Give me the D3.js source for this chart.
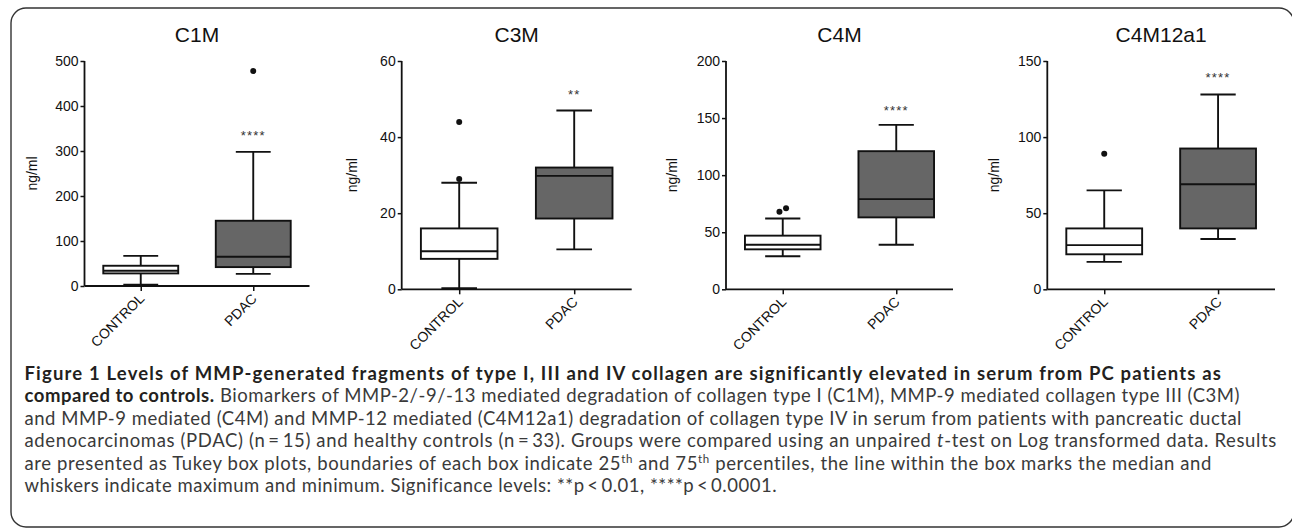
<!DOCTYPE html>
<html><head><meta charset="utf-8">
<script src="https://cdn.jsdelivr.net/npm/d3@7"></script>
<style>body{margin:0;background:#fff;} svg{display:block}</style>
</head><body>
<svg id="chart" width="1292" height="528"></svg>
<script>
// ---------- DATA ----------
const panelNames = ["C1M", "C3M", "C4M", "C4M12a1"];
const groups = ["CONTROL", "PDAC"];
const yMax = [500, 60, 200, 150];
const yTicks = [[0, 100, 200, 300, 400, 500], [0, 20, 40, 60], [0, 50, 100, 150, 200], [0, 50, 100, 150]];
// [min, q1, median, q3, max]
const controlStats = [[3, 28, 34, 45, 67], [0.3, 8, 10, 16, 28], [29, 35, 39, 47, 62], [18, 23, 29, 40, 65]];
const pdacStats = [[27, 42, 65, 145, 298], [10.5, 18.6, 29.8, 32, 47], [39, 63, 79, 121, 144], [33, 40, 69, 92.5, 128]];
const controlOutliers = [[], [29, 44], [68, 71], [89]];
const pdacOutliers = [[478], [], [], []];
const significance = ["****", "**", "****", "****"];
const significanceAt = [340, 52, 159, 141];
const yLabel = "ng/ml";

// ---------- LAYOUT ----------
const layout = [
  {x0: 84.5, x1: 309.5, yTop: 61, yBot: 286, ylab: -47.5},
  {x0: 401.7, x1: 631.7, yTop: 61, yBot: 289.3, ylab: -44.8},
  {x0: 726, x1: 953, yTop: 61, yBot: 289.3, ylab: -49},
  {x0: 1047.3, x1: 1275, yTop: 61, yBot: 289.3, ylab: -48.7}
];
const ink = "#111";
const pdacFill = "#666666";
const sans = "'Liberation Sans', Arial, sans-serif";

const svg = d3.select("#chart");

// frame
svg.append("rect").attr("x", 11).attr("y", 8).attr("width", 1283).attr("height", 519)
  .attr("rx", 15).attr("ry", 15).attr("fill", "none").attr("stroke", "#333").attr("stroke-width", 1.4);

panelNames.forEach((name, i) => {
  const L = layout[i];
  const g = svg.append("g");
  const y = d3.scaleLinear().domain([0, yMax[i]]).range([L.yBot, L.yTop]);
  const x = d3.scalePoint().domain(groups).range([L.x0, L.x1]).padding(0.5);
  const w = L.x1 - L.x0;
  const bw = w * 0.333, cw = w * 0.155;

  // title
  g.append("text").attr("x", (L.x0 + L.x1) / 2).attr("y", 41.5).attr("text-anchor", "middle")
    .attr("font-family", sans).attr("font-size", 21).attr("fill", ink).text(name);

  // y axis
  const ya = g.append("g").attr("transform", `translate(${L.x0},0)`)
    .call(d3.axisLeft(y).tickValues(yTicks[i]).tickSize(4).tickPadding(2).tickFormat(d3.format("d")));
  ya.select(".domain").attr("stroke", ink).attr("stroke-width", 1.8).attr("d", `M0,${L.yTop}V${L.yBot}`);
  ya.selectAll(".tick line").attr("stroke", ink).attr("stroke-width", 1.5);
  ya.selectAll(".tick text").attr("font-family", sans).attr("font-size", 14).attr("fill", ink);

  // x axis
  const xa = g.append("g").attr("transform", `translate(0,${L.yBot})`)
    .call(d3.axisBottom(x).tickSize(5).tickSizeOuter(0));
  xa.select(".domain").attr("stroke", ink).attr("stroke-width", 1.8).attr("d", `M${L.x0},0H${L.x1}`);
  xa.selectAll(".tick line").attr("stroke", ink).attr("stroke-width", 1.5);
  xa.selectAll(".tick text").attr("font-family", sans).attr("font-size", 14).attr("fill", ink)
    .attr("text-anchor", "end").attr("y", 0).attr("dy", 0)
    .attr("transform", "translate(4,13.5) rotate(-45)");

  // y label
  g.append("text").attr("transform", `translate(${L.x0 + L.ylab},${(L.yTop + L.yBot) / 2}) rotate(-90)`)
    .attr("text-anchor", "middle").attr("font-family", sans).attr("font-size", 14).attr("fill", ink).text(yLabel);

  // boxes
  const sets = [
    {grp: groups[0], s: controlStats[i], out: controlOutliers[i], fill: "#fff"},
    {grp: groups[1], s: pdacStats[i], out: pdacOutliers[i], fill: pdacFill}
  ];
  sets.forEach(d => {
    const cx = x(d.grp);
    const [mn, q1, md, q3, mx] = d.s;
    const bg = g.append("g").attr("stroke", ink).attr("stroke-width", 1.9);
    bg.append("line").attr("x1", cx).attr("x2", cx).attr("y1", y(mx)).attr("y2", y(q3));
    bg.append("line").attr("x1", cx).attr("x2", cx).attr("y1", y(q1)).attr("y2", y(mn));
    bg.append("line").attr("x1", cx - cw / 2).attr("x2", cx + cw / 2).attr("y1", y(mx)).attr("y2", y(mx));
    bg.append("line").attr("x1", cx - cw / 2).attr("x2", cx + cw / 2).attr("y1", y(mn)).attr("y2", y(mn));
    bg.append("rect").attr("x", cx - bw / 2).attr("width", bw).attr("y", y(q3)).attr("height", y(q1) - y(q3))
      .attr("fill", d.fill);
    bg.append("line").attr("x1", cx - bw / 2).attr("x2", cx + bw / 2).attr("y1", y(md)).attr("y2", y(md));
    // outliers (nudge apart when they would overlap)
    const pts = d.out.map(v => ({v, py: y(v), dx: 0}));
    for (let k = 1; k < pts.length; k++) {
      if (Math.abs(pts[k].py - pts[k - 1].py) < 6) { pts[k - 1].dx = -3.3; pts[k].dx = 3.3; }
    }
    g.selectAll(null).data(pts).enter().append("circle")
      .attr("cx", p => cx + p.dx).attr("cy", p => p.py).attr("r", 3).attr("fill", ink);
  });

  // significance stars
  g.append("text").attr("x", x(groups[1])).attr("y", y(significanceAt[i]) + 7.4)
    .attr("text-anchor", "middle").attr("font-family", sans).attr("font-size", 13)
    .attr("letter-spacing", 1.2).attr("fill", "#333").text(significance[i]);
});

// ---------- CAPTION ----------
const capX = 24.5;
const capBase = [380, 402.4, 424.8, 447.2, 469.6, 492];
const capRight = [1222, 1240, 1242, 1277, 1212, 777];
const capFont = "Lato, 'Open Sans', sans-serif";
const capLines = [
  [{t: "Figure 1 Levels of MMP-generated fragments of type I, III and IV collagen are significantly elevated in serum from PC patients as", b: true}],
  [{t: "compared to controls.", b: true}, {t: " Biomarkers of MMP-2/-9/-13 mediated degradation of collagen type I (C1M), MMP-9 mediated collagen type III (C3M)"}],
  [{t: "and MMP-9 mediated (C4M) and MMP-12 mediated (C4M12a1) degradation of collagen type IV in serum from patients with pancreatic ductal"}],
  [{t: "adenocarcinomas (PDAC) (n\u2009=\u200915) and healthy controls (n\u2009=\u200933). Groups were compared using an unpaired "}, {t: "t", i: true}, {t: "-test on Log transformed data. Results"}],
  [{t: "are presented as Tukey box plots, boundaries of each box indicate 25"}, {t: "th", sup: true}, {t: " and 75"}, {t: "th", sup: true}, {t: " percentiles, the line within the box marks the median and"}],
  [{t: "whiskers indicate maximum and minimum. Significance levels: **p\u2009<\u20090.01, ****p\u2009<\u20090.0001."}]
];
capLines.forEach((parts, li) => {
  const t = svg.append("text").attr("x", capX).attr("y", capBase[li])
    .attr("font-family", capFont).attr("font-size", 18.5).attr("fill", "#3a3a3a");
  let shifted = false;
  parts.forEach(p => {
    const sp = t.append("tspan").text(p.t);
    if (p.b) sp.attr("font-weight", "bold").attr("fill", "#231f20");
    if (p.i) sp.attr("font-style", "italic");
    if (p.sup) { sp.attr("font-size", 11.5).attr("dy", -6.5); shifted = true; }
    else if (shifted) { sp.attr("dy", 6.5); shifted = false; }
  });
  const target = capRight[li] - capX;
  const n = parts.map(p => p.t).join("").length;
  for (let it = 0; it < 3; it++) {
    const cur = t.node().getComputedTextLength();
    const ls = parseFloat(t.attr("letter-spacing") || 0) + (target - cur) / n;
    t.attr("letter-spacing", ls);
  }
});
</script>
</body></html>
